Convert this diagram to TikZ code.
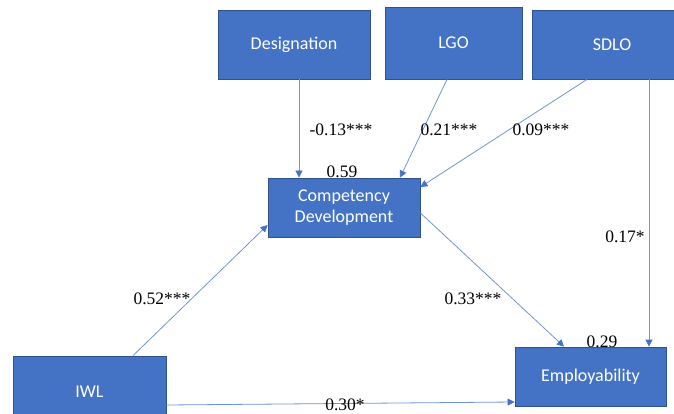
\documentclass[tikz,border=0pt]{standalone}
\usepackage{fontspec}
\usepackage{xcolor}
\usepackage{tikz}
\setmainfont{Liberation Serif}
\newfontfamily\boxfont{Carlito}
\usetikzlibrary{arrows.meta}
\definecolor{officeblue}{HTML}{4472C4}
\definecolor{boxedge}{HTML}{2F528F}
\definecolor{linkblue}{HTML}{6F95D6}
\tikzstyle{varbox} = [draw=boxedge, fill=officeblue, text=white, line width=0.8pt,
rectangle, inner sep=0pt, align=center, font=\boxfont\fontsize{18}{21}\selectfont]
\tikzstyle{link} = [draw=linkblue, line width=0.8pt,
-{Triangle[width=7pt,length=7pt,fill=officeblue,color=officeblue]}]
\tikzstyle{coef} = [font=\fontsize{17.5}{20}\selectfont, inner sep=1pt]

\begin{document}
\begin{tikzpicture}[x=1pt, y=-1pt]
        \useasboundingbox (0,0) rectangle (674,414);
        % R squared, partly hidden by the boxes
        \node[coef] (rsqcd) at (342,172) {0.59};
        \node[coef] (rsqemp) at (602,342) {0.29};
        \node[varbox, minimum width=152pt, minimum height=69pt] (desig) at (294,44.5) {Designation};
        \node[varbox, minimum width=137pt, minimum height=72pt] (lgo) at (453.5,43) {LGO};
        \node[varbox, minimum width=160pt, minimum height=69pt] (sdlo) at (612,44.5) {SDLO};
        \node[varbox, minimum width=152pt, minimum height=59pt] (compdev) at (344,207.5) {Competency\\Development};
        \node[varbox, minimum width=153pt, minimum height=72pt] (iwl) at (89.5,392) {IWL};
        \node[varbox, minimum width=151pt, minimum height=59pt] (employ) at (590.5,376.5) {Employability};
        \draw[link] ([xshift=5pt]desig.south) -- ([xshift=-45pt]compdev.north);
        \draw[link] ([xshift=-6.5pt]lgo.south) -- ([xshift=56pt]compdev.north);
        \draw[link] ([xshift=-25pt]sdlo.south) -- ([yshift=20.5pt]compdev.east);
        \draw[link] ([xshift=37pt]sdlo.south) -- ([xshift=58.5pt]employ.north);
        \draw[link] ([yshift=-5.5pt]compdev.east) -- ([xshift=-26.5pt]employ.north);
        \draw[link] ([xshift=43.5pt]iwl.north) -- ([yshift=-17.5pt]compdev.west);
        \draw[link] ([yshift=-13pt]iwl.east) -- ([yshift=-25.5pt]employ.west);
        \node[coef] (cdesig) at (341,130) {-0.13***};
        \node[coef] (clgo) at (449,130) {0.21***};
        \node[coef] (csdlo) at (541,130) {0.09***};
        \node[coef] (ciwlcd) at (162,299) {0.52***};
        \node[coef] (ccdemp) at (473,299) {0.33***};
        \node[coef] (csdemp) at (625,237) {0.17*};
        \node[coef, inner sep=0pt] (ciwlemp) at (345,404.5) {0.30*};
\end{tikzpicture}
\end{document}
